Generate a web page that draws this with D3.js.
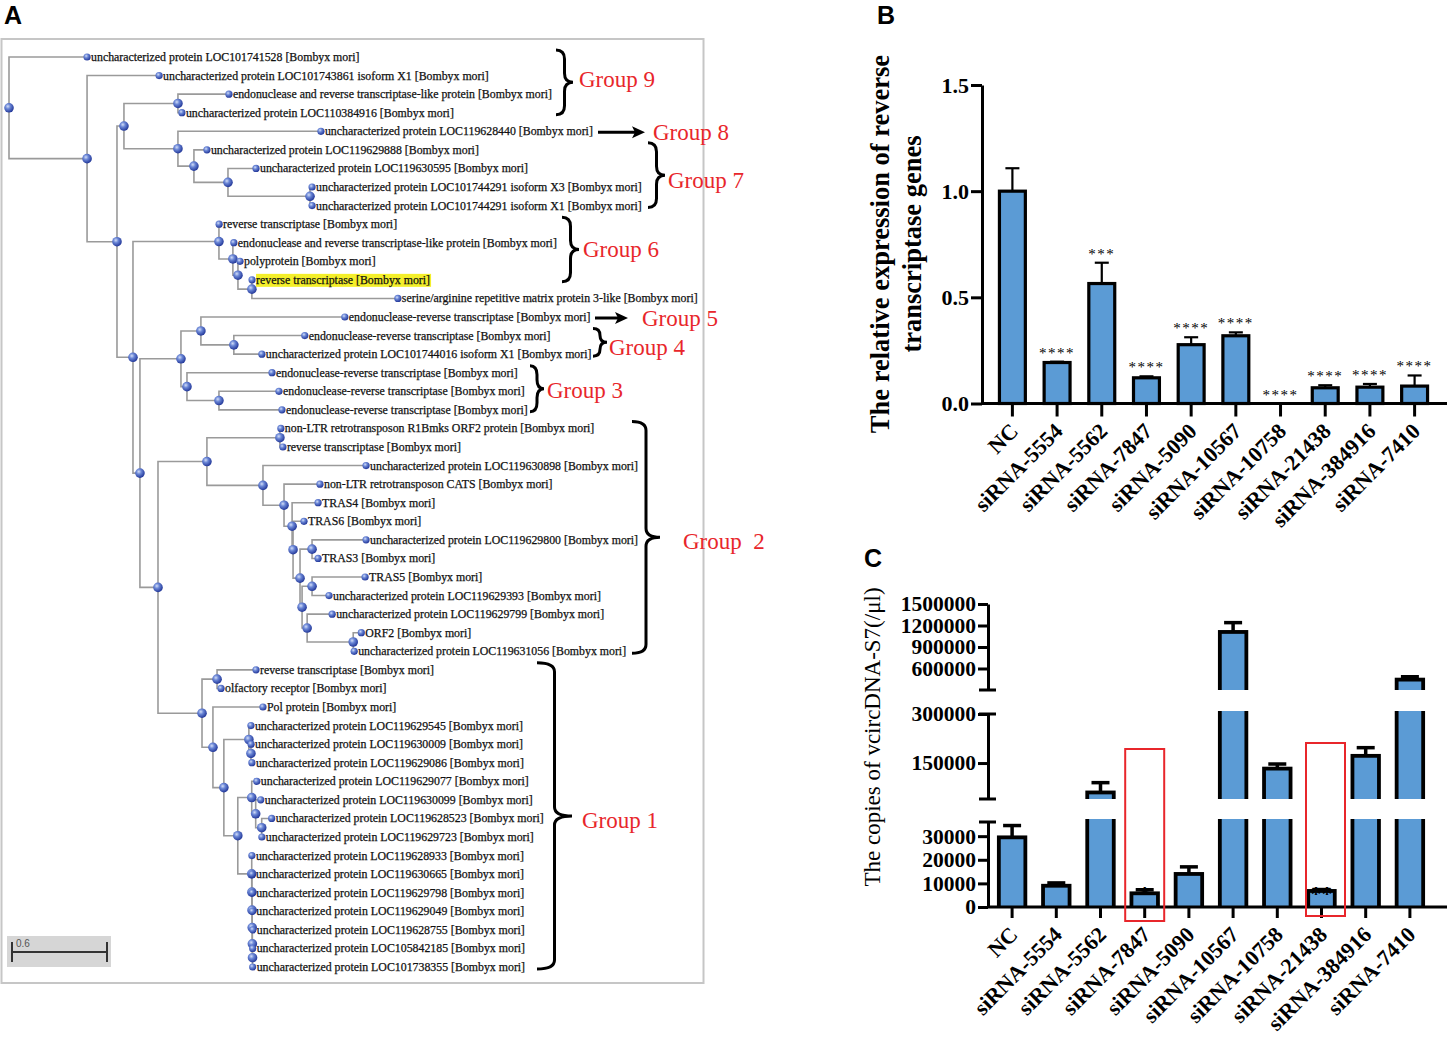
<!DOCTYPE html>
<html><head><meta charset="utf-8">
<script src="https://cdn.jsdelivr.net/npm/d3@7"></script>
<style>body{margin:0;background:#fff} svg{display:block}</style>
</head><body>
<svg id="fig" width="1447" height="1038"></svg>
<script>
// ================= DATA =================
// ---- Panel A: phylogenetic tree ----
const leafNames = [
"uncharacterized protein LOC101741528 [Bombyx mori]",
"uncharacterized protein LOC101743861 isoform X1 [Bombyx mori]",
"endonuclease and reverse transcriptase-like protein [Bombyx mori]",
"uncharacterized protein LOC110384916 [Bombyx mori]",
"uncharacterized protein LOC119628440 [Bombyx mori]",
"uncharacterized protein LOC119629888 [Bombyx mori]",
"uncharacterized protein LOC119630595 [Bombyx mori]",
"uncharacterized protein LOC101744291 isoform X3 [Bombyx mori]",
"uncharacterized protein LOC101744291 isoform X1 [Bombyx mori]",
"reverse transcriptase [Bombyx mori]",
"endonuclease and reverse transcriptase-like protein [Bombyx mori]",
"polyprotein [Bombyx mori]",
"reverse transcriptase [Bombyx mori]",
"serine/arginine repetitive matrix protein 3-like [Bombyx mori]",
"endonuclease-reverse transcriptase [Bombyx mori]",
"endonuclease-reverse transcriptase [Bombyx mori]",
"uncharacterized protein LOC101744016 isoform X1 [Bombyx mori]",
"endonuclease-reverse transcriptase [Bombyx mori]",
"endonuclease-reverse transcriptase [Bombyx mori]",
"endonuclease-reverse transcriptase [Bombyx mori]",
"non-LTR retrotransposon R1Bmks ORF2 protein [Bombyx mori]",
"reverse transcriptase [Bombyx mori]",
"uncharacterized protein LOC119630898 [Bombyx mori]",
"non-LTR retrotransposon CATS [Bombyx mori]",
"TRAS4 [Bombyx mori]",
"TRAS6 [Bombyx mori]",
"uncharacterized protein LOC119629800 [Bombyx mori]",
"TRAS3 [Bombyx mori]",
"TRAS5 [Bombyx mori]",
"uncharacterized protein LOC119629393 [Bombyx mori]",
"uncharacterized protein LOC119629799 [Bombyx mori]",
"ORF2 [Bombyx mori]",
"uncharacterized protein LOC119631056 [Bombyx mori]",
"reverse transcriptase [Bombyx mori]",
"olfactory receptor [Bombyx mori]",
"Pol protein [Bombyx mori]",
"uncharacterized protein LOC119629545 [Bombyx mori]",
"uncharacterized protein LOC119630009 [Bombyx mori]",
"uncharacterized protein LOC119629086 [Bombyx mori]",
"uncharacterized protein LOC119629077 [Bombyx mori]",
"uncharacterized protein LOC119630099 [Bombyx mori]",
"uncharacterized protein LOC119628523 [Bombyx mori]",
"uncharacterized protein LOC119629723 [Bombyx mori]",
"uncharacterized protein LOC119628933 [Bombyx mori]",
"uncharacterized protein LOC119630665 [Bombyx mori]",
"uncharacterized protein LOC119629798 [Bombyx mori]",
"uncharacterized protein LOC119629049 [Bombyx mori]",
"uncharacterized protein LOC119628755 [Bombyx mori]",
"uncharacterized protein LOC105842185 [Bombyx mori]",
"uncharacterized protein LOC101738355 [Bombyx mori]"
];
const highlightLeaf = 12;
// Newick clades (leaf ids index leafNames, branch lengths in substitutions/site)
const cladeZ8 = "(31:0.051,32:0.006):0.291";
const cladeZ5 = "((28:0.335,29:0.107):0.063,(30:0.158," + cladeZ8 + "):0.032):0.013";
const cladeZ3 = "((26:0.341,27:0.038):0.076," + cladeZ5 + "):0.044";
const cladeY  = "(23:0.227,(24:0.164,(25:0.069," + cladeZ3 + "):0.006):0.051):0.133";
const cladeU  = "((20:0.006,21:0.019):0.461,(22:0.651," + cladeY + "):0.354):0.309";
const cladeGG = "(43:0.001,(44:0.001,(45:0.001,(46:0.001,(47:0.003,(48:0.001,49:0.001):0.001):0.001):0.001):0.001):0.001):0.088";
const cladeEE = "((39:0.032,(40:0.032,(41:0.063,42:0.001):0.038):0.025):0.088," + cladeGG + "):0.088";
const cladeCC = "((36:0.013,(37:0.001,38:0.006):0.013):0.158," + cladeEE + "):0.069";
const cladeV  = "((33:0.246,34:0.025):0.095,(35:0.316," + cladeCC + "):0.069):0.278";
const cladeM  = "(" + cladeU + "," + cladeV + "):0.114";
const cladeL  = "((14:0.909,(15:0.448,16:0.177):0.208):0.126,(17:0.537,(18:0.379,19:0.398):0.202):0.038):0.259";
const cladeD  = "((9:0.001,(10:0.006,(11:0.013,(12:0.001,13:0.922):0.088):0.032):0.088):0.543,(" + cladeL + "," + cladeM + "):0.044):0.101";
const cladeC  = "((2:0.322,3:0.025):0.341,(4:0.903,(5:0.082,(6:0.177,(7:0.013,8:0.013):0.518):0.215):0.101):0.341):0.044";
const treeNewick = "(0:0.493,(1:0.455,(" + cladeC + "," + cladeD + "):0.189):0.493);";
const scaleBarValue = 0.6;

const groupLabels    = ["Group 9","Group 8","Group 7","Group 6","Group 5","Group 4","Group 3","Group\u00a0\u00a02","Group 1"];
const groupFirstLeaf = [0, 4, 5, 9, 14, 15, 17, 20, 33];
const groupLastLeaf  = [3, 4, 8, 12, 14, 16, 19, 32, 49];
const groupMark      = ["brace","arrow","brace","brace","arrow","brace","brace","brace","brace"];

// ---- Panel B ----
const categories = ["NC","siRNA-5554","siRNA-5562","siRNA-7847","siRNA-5090","siRNA-10567","siRNA-10758","siRNA-21438","siRNA-384916","siRNA-7410"];
const relExpr    = [1.0, 0.193, 0.565, 0.121, 0.277, 0.319, 0.0, 0.074, 0.077, 0.082];
const relExprErr = [0.108, 0.004, 0.098, 0.007, 0.035, 0.016, 0.0, 0.012, 0.015, 0.050];
const relExprSig = ["", "****", "***", "****", "****", "****", "****", "****", "****", "****"];
const ticksB = [0, 0.5, 1.0, 1.5];

// ---- Panel C ----
const copies    = [29500, 9000, 60000, 5800, 14000, 1110000, 133000, 6800, 172000, 445000];
const copiesErr = [5000, 1200, 30000, 1500, 3000, 130000, 14000, 600, 25000, 40000];
const copiesSig = ["", "", "", "*", "", "", "", "**", "", ""];
const segDomainsC = [[0, 36000], [40000, 300000], [300000, 1500000]];
const segTicksC   = [[0, 10000, 20000, 30000], [150000, 300000], [600000, 900000, 1200000, 1500000]];
const highlightedC = ["siRNA-7847", "siRNA-21438"];

// ================= DRAWING =================
const svg = d3.select("#fig");
const defs = svg.append("defs");
const serif = "'Liberation Serif','Times New Roman',serif";
const sans = "'Liberation Sans',Arial,sans-serif";
const barBlue = "#5b9bd5";

// panel letters
[["A",4,24],["B",877,24],["C",864,567]].forEach(([t,x,y]) =>
  svg.append("text").attr("x",x).attr("y",y).attr("font-family",sans).attr("font-weight","bold")
     .attr("font-size",25).text(t));

// ---------- Panel A ----------
function parseNewick(s){
  let i = 0;
  function node(){
    const n = {children: [], name: "", length: 0};
    if (s[i] === "("){
      i++; n.children.push(node());
      while (s[i] === ","){ i++; n.children.push(node()); }
      i++;
    }
    while (i < s.length && !",():;".includes(s[i])) n.name += s[i++];
    if (s[i] === ":"){ i++; let num = ""; while (i < s.length && !",();".includes(s[i])) num += s[i++]; n.length = +num; }
    return n;
  }
  return node();
}
const gA = svg.append("g");
gA.append("rect").attr("x",1.5).attr("y",39).attr("width",702).attr("height",944)
  .attr("fill","#fff").attr("stroke","#c6c6c6").attr("stroke-width",2);

const xTree = d3.scaleLinear().domain([0, scaleBarValue]).range([9, 104]);
const yLeaf = d3.scaleLinear().domain([0, leafNames.length - 1]).range([57, 967]);
const root = d3.hierarchy(parseNewick(treeNewick), d => d.children.length ? d.children : null);
root.eachBefore(d => { d.dist = d.parent ? d.parent.dist + d.data.length : 0; d.px = xTree(d.dist); });
root.eachAfter(d => { d.py = d.children ? (d.children[0].py + d.children[d.children.length-1].py) / 2 : yLeaf(+d.data.name); });

const grad = defs.append("radialGradient").attr("id","ball").attr("cx","38%").attr("cy","35%").attr("r","65%");
grad.append("stop").attr("offset","0%").attr("stop-color","#d2ddf7");
grad.append("stop").attr("offset","40%").attr("stop-color","#6a86d6");
grad.append("stop").attr("offset","100%").attr("stop-color","#24399a");

gA.append("g").selectAll("path").data(root.descendants().filter(d => d.parent)).join("path")
  .attr("d", d => `M${d.parent.px},${d.parent.py}V${d.py}H${d.px}`)
  .attr("fill","none").attr("stroke","#9a9a9a").attr("stroke-width",1.6);

const leaves = root.leaves();
const labG = gA.append("g");
const labels = labG.selectAll("text").data(leaves).join("text")
  .attr("x", d => d.px + 4).attr("y", d => d.py + 4)
  .attr("font-family", serif).attr("font-size", 11.85).attr("fill","#111")
  .attr("stroke","#111").attr("stroke-width",0.25)
  .text(d => leafNames[+d.data.name]);
labels.filter(d => +d.data.name === highlightLeaf).each(function(){
  const b = this.getBBox();
  labG.insert("rect","text").attr("x",b.x).attr("y",b.y+1).attr("width",b.width+1).attr("height",b.height-1).attr("fill","#f4ef2a");
});

gA.append("g").selectAll("circle").data(root.descendants()).join("circle")
  .attr("cx", d => d.px).attr("cy", d => d.py)
  .attr("r", d => d.children ? 4.8 : 3.6)
  .attr("fill","url(#ball)");

// scale bar
const sb = gA.append("g");
sb.append("rect").attr("x",7).attr("y",936).attr("width",104).attr("height",31).attr("fill","#d6d6d6");
const sbx0 = xTree(0) + 3, sbx1 = xTree(scaleBarValue) + 3;
sb.append("path").attr("d",`M${sbx0},952H${sbx1}M${sbx0},942V962M${sbx1},942V962`).attr("stroke","#333").attr("stroke-width",2).attr("fill","none");
sb.append("text").attr("x",sbx0+4).attr("y",947).attr("font-family",sans).attr("font-size",10).attr("fill","#555").text(scaleBarValue);

// groups
const braceX0 = [556, 598, 648, 562, 595, 593, 530, 632, 537];
const braceTip = [573, 645, 665, 579, 628, 607, 544, 660, 572];
const groupTextX = [579, 653, 668, 583, 642, 609, 547, 683, 582];
const groupTextDy = [-3, 0, 5, -1, 0, 5, 1, 4, 4];
function bracePath(x0, y1, y2, xt){
  const xs = x0 + (xt - x0) * 0.5, ym = (y1 + y2) / 2, r = Math.min(9, (y2 - y1) / 4);
  return `M${x0},${y1}Q${xs},${y1} ${xs},${y1+r}L${xs},${ym-r}Q${xs},${ym} ${xt},${ym}Q${xs},${ym} ${xs},${ym+r}L${xs},${y2-r}Q${xs},${y2} ${x0},${y2}`;
}
const gG = gA.append("g");
groupLabels.forEach((lab, i) => {
  let yc;
  if (groupMark[i] === "brace"){
    const y1 = yLeaf(groupFirstLeaf[i]) - 7, y2 = yLeaf(groupLastLeaf[i]) + 2;
    yc = (y1 + y2) / 2;
    gG.append("path").attr("d", bracePath(braceX0[i], y1, y2, braceTip[i]))
      .attr("fill","none").attr("stroke","#000").attr("stroke-width",3);
  } else {
    yc = yLeaf(groupFirstLeaf[i]) + 1;
    gG.append("path").attr("d",`M${braceX0[i]},${yc}H${braceTip[i]-8}`).attr("stroke","#000").attr("stroke-width",3);
    gG.append("path").attr("d",`M${braceTip[i]},${yc}L${braceTip[i]-13},${yc-6}L${braceTip[i]-10},${yc}L${braceTip[i]-13},${yc+6}Z`).attr("fill","#000");
  }
  gG.append("text").attr("x", groupTextX[i]).attr("y", yc + groupTextDy[i]).attr("dy","0.35em")
    .attr("font-family", serif).attr("font-size", 23).attr("fill","#e8262b").text(lab);
});

// ---------- Panel B ----------
const gB = svg.append("g");
const xB = d3.scaleBand().domain(categories).range([990.5, 1436.5]).paddingInner(0.42).paddingOuter(0.2);
const yB = d3.scaleLinear().domain([0, 1.5]).range([403.5, 85]);
const axB = gB.append("g").attr("transform","translate(982,0)")
  .call(d3.axisLeft(yB).tickValues(ticksB).tickFormat(d3.format(".1f")).tickSize(11).tickSizeOuter(0));
axB.selectAll("path,line").attr("stroke","#000").attr("stroke-width",3);
axB.selectAll("text").attr("font-family",serif).attr("font-weight","bold").attr("font-size",22).attr("fill","#000").attr("x",-13);
gB.append("line").attr("x1",982).attr("x2",1447).attr("y1",yB(0)).attr("y2",yB(0)).attr("stroke","#000").attr("stroke-width",3);
const cxB = c => xB(c) + xB.bandwidth() / 2;
gB.selectAll("line.tick").data(categories).join("line")
  .attr("x1",cxB).attr("x2",cxB).attr("y1",yB(0)).attr("y2",yB(0)+13).attr("stroke","#000").attr("stroke-width",3);
categories.forEach((c, i) => {
  const v = relExpr[i], e = relExprErr[i];
  if (v > 0){
    gB.append("line").attr("x1",cxB(c)).attr("x2",cxB(c)).attr("y1",yB(v)).attr("y2",yB(v+e)).attr("stroke","#000").attr("stroke-width",2.2);
    gB.append("line").attr("x1",cxB(c)-7).attr("x2",cxB(c)+7).attr("y1",yB(v+e)).attr("y2",yB(v+e)).attr("stroke","#000").attr("stroke-width",2.2);
    gB.append("rect").attr("x",xB(c)).attr("width",xB.bandwidth()).attr("y",yB(v)).attr("height",yB(0)-yB(v))
      .attr("fill",barBlue).attr("stroke","#000").attr("stroke-width",3.2);
  }
  if (relExprSig[i]) gB.append("text").attr("x",cxB(c)).attr("y",yB(v+e)-4).attr("text-anchor","middle")
    .attr("font-family",serif).attr("font-size",15).attr("letter-spacing",1.5).text(relExprSig[i]);
  gB.append("text").attr("transform",`translate(${cxB(c)+7},${yB(0)+29}) rotate(-45)`).attr("text-anchor","end")
    .attr("font-family",serif).attr("font-weight","bold").attr("font-size",22).text(c);
});
const titleB = gB.append("text").attr("transform","translate(896,244) rotate(-90)").attr("text-anchor","middle")
  .attr("font-family",serif).attr("font-weight","bold").attr("font-size",26.5);
titleB.append("tspan").attr("x",0).attr("dy","-0.25em").text("The relative expression of reverse");
titleB.append("tspan").attr("x",0).attr("dy","1.2em").text("transcriptase genes");

// ---------- Panel C ----------
const gC = svg.append("g");
const axisXC = 988;
const segRangesC = [[907, 822], [799, 714], [690, 604]];
const xC = d3.scaleBand().domain(categories).range([990, 1432]).paddingInner(0.4).paddingOuter(0.2);
const cxC = c => xC(c) + xC.bandwidth() / 2;
segDomainsC.forEach((dom, s) => {
  const sc = d3.scaleLinear().domain(dom).range(segRangesC[s]);
  const [r0, r1] = segRangesC[s];
  defs.append("clipPath").attr("id","clipC"+s).append("rect")
    .attr("x",axisXC).attr("y",r1-3).attr("width",460).attr("height",r0-r1+3);
  const gs = gC.append("g").attr("clip-path",`url(#clipC${s})`);
  categories.forEach((c, i) => {
    const v = copies[i], e = copiesErr[i];
    if (v <= dom[0]) return;
    const yTop = v > dom[1] ? r1 - 12 : sc(v);
    if (v <= dom[1]){
      gC.append("line").attr("x1",cxC(c)).attr("x2",cxC(c)).attr("y1",sc(v)).attr("y2",sc(v+e)).attr("stroke","#000").attr("stroke-width",3.5);
      gC.append("line").attr("x1",cxC(c)-9).attr("x2",cxC(c)+9).attr("y1",sc(v+e)).attr("y2",sc(v+e)).attr("stroke","#000").attr("stroke-width",3.5);
    }
    gs.append("rect").attr("x",xC(c)).attr("width",xC.bandwidth()).attr("y",yTop).attr("height",r0 + 12 - yTop)
      .attr("fill",barBlue).attr("stroke","#000").attr("stroke-width",3.8);
    if (copiesSig[i] && v <= dom[1]) gC.append("text").attr("x",cxC(c)).attr("y",sc(v+e)+11).attr("text-anchor","middle")
      .attr("font-family",serif).attr("font-weight","bold").attr("font-size",22).text(copiesSig[i]);
  });
  const ax = gC.append("g").attr("transform",`translate(${axisXC},0)`)
    .call(d3.axisLeft(sc).tickValues(segTicksC[s]).tickFormat(d3.format("d")).tickSize(10).tickSizeOuter(0));
  ax.selectAll("path,line").attr("stroke","#000").attr("stroke-width",3);
  ax.selectAll("text").attr("font-family",serif).attr("font-weight","bold").attr("font-size",21.5).attr("fill","#000").attr("x",-12);
  // break caps
  [s > 0 ? r0 : null, s < 2 ? r1 : null].filter(y => y !== null).forEach(y =>
    gC.append("line").attr("x1",axisXC-9).attr("x2",axisXC+8).attr("y1",y).attr("y2",y).attr("stroke","#000").attr("stroke-width",3));
});
const y0C = segRangesC[0][0];
gC.append("line").attr("x1",axisXC).attr("x2",1447).attr("y1",y0C).attr("y2",y0C).attr("stroke","#000").attr("stroke-width",3);
categories.forEach(c => {
  gC.append("line").attr("x1",cxC(c)).attr("x2",cxC(c)).attr("y1",y0C).attr("y2",y0C+11).attr("stroke","#000").attr("stroke-width",3);
  gC.append("text").attr("transform",`translate(${cxC(c)+7},${y0C+29}) rotate(-45)`).attr("text-anchor","end")
    .attr("font-family",serif).attr("font-weight","bold").attr("font-size",22).text(c);
});
// red highlight boxes
const boxTop = {"siRNA-7847": 749, "siRNA-21438": 743};
const boxBot = {"siRNA-7847": 921, "siRNA-21438": 916};
const boxDx  = {"siRNA-7847": 0, "siRNA-21438": 4};
highlightedC.forEach(c => {
  gC.append("rect").attr("x",cxC(c)-19.5+boxDx[c]).attr("width",39).attr("y",boxTop[c]).attr("height",boxBot[c]-boxTop[c])
    .attr("fill","none").attr("stroke","#e8262b").attr("stroke-width",2);
});
gC.append("text").attr("transform","translate(880,737) rotate(-90)").attr("text-anchor","middle")
  .attr("font-family",serif).attr("font-size",23).text("The copies of vcircDNA-S7(/\u03bcl)");
</script>
</body></html>
